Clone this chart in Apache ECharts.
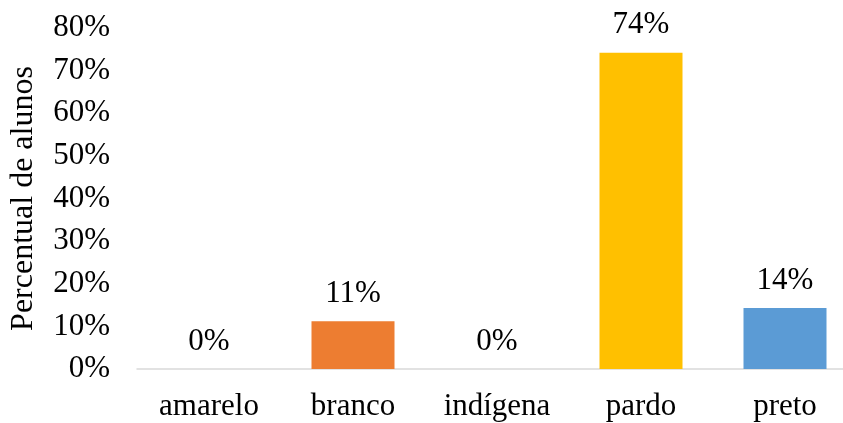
<!DOCTYPE html>
<html>
<head>
<meta charset="utf-8">
<script src="https://cdn.jsdelivr.net/npm/echarts@6/dist/echarts.min.js"></script>
<style>
html,body{margin:0;padding:0;background:#fff;overflow:hidden;width:843px;height:423px;}
#chart{width:857px;height:423px;}
</style>
</head>
<body>
<div id="chart"></div>
<script>
var categories = ['amarelo', 'branco', 'indígena', 'pardo', 'preto'];
var values = [0, 11.2, 0, 74.2, 14.3];
var barColors = ['#4472C4', '#ED7D31', '#A5A5A5', '#FFC000', '#5B9BD5'];
var yTicks = [0, 10, 20, 30, 40, 50, 60, 70, 80];
var yAxisTitle = 'Percentual de alunos';

var font = '"Liberation Serif", "Times New Roman", serif';
var chart = echarts.init(document.getElementById('chart'), null, {renderer: 'canvas'});
chart.setOption({
  animation: false,
  backgroundColor: '#fff',
  grid: {left: 135, top: 28, bottom: 54, right: 0, containLabel: false},
  xAxis: {
    type: 'category',
    data: categories,
    axisLine: {show: true, lineStyle: {color: '#D9D9D9', width: 1.5}},
    axisTick: {show: false},
    axisLabel: {color: '#000', fontFamily: font, fontSize: 31, margin: 22}
  },
  yAxis: {
    type: 'value',
    min: yTicks[0],
    max: yTicks[yTicks.length - 1],
    interval: 10,
    name: yAxisTitle,
    nameLocation: 'middle',
    nameGap: 97,
    nameTextStyle: {color: '#000', fontFamily: font, fontSize: 32},
    axisLine: {show: false},
    axisTick: {show: false},
    splitLine: {show: false},
    axisLabel: {color: '#000', fontFamily: font, fontSize: 31, margin: 27,
      formatter: function (v) { return v + '%'; }}
  },
  series: [{
    type: 'bar',
    data: values.map(function (v, i) { return {value: v, itemStyle: {color: barColors[i]}}; }),
    barWidth: 83,
    label: {
      show: true,
      position: 'top',
      distance: 12,
      color: '#000',
      fontFamily: font,
      fontSize: 31,
      formatter: function (p) { return Math.round(p.value) + '%'; }
    }
  }]
});
</script>
</body>
</html>
